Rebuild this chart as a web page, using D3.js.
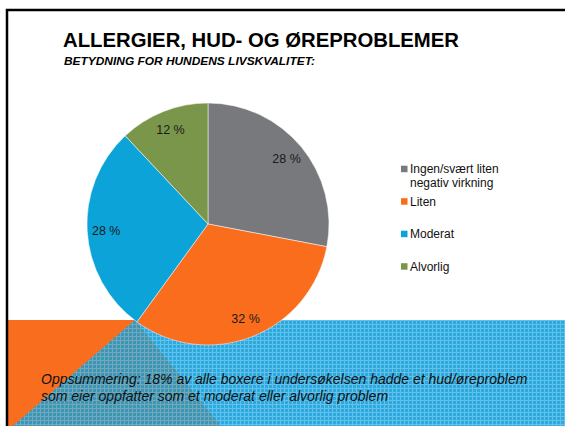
<!DOCTYPE html>
<html lang="no">
<head>
  <meta charset="utf-8">
  <title>Allergier, hud- og øreproblemer</title>
  <script src="https://d3js.org/d3.v7.min.js" charset="utf-8"></script>
  <style>
    html, body { margin: 0; padding: 0; background: #fff; }
    svg { display: block; font-family: "Liberation Sans", Arial, sans-serif; }
  </style>
</head>
<body>
<svg id="chart" width="565" height="426" xmlns="http://www.w3.org/2000/svg"></svg>
<script>
  // chart data
  var categories = ["Ingen/svært liten negativ virkning", "Liten", "Moderat", "Alvorlig"];
  var legendLines = [["Ingen/svært liten", "negativ virkning"], ["Liten"], ["Moderat"], ["Alvorlig"]];
  var values = [28, 32, 28, 12];
  var colors = ["#78797c", "#f96d1d", "#0ba3d8", "#7a964b"];

  var title = "ALLERGIER, HUD- OG ØREPROBLEMER";
  var subtitle = "BETYDNING FOR HUNDENS LIVSKVALITET:";
  var summary = ["Oppsummering: 18% av alle boxere i undersøkelsen hadde et hud/øreproblem",
                 "som eier oppfatter som et moderat eller alvorlig problem"];

  var svg = d3.select("#chart");
  var defs = svg.append("defs");

  // fine grid textures for the bottom band
  function gridPattern(id, base, line) {
    var p = defs.append("pattern")
      .attr("id", id)
      .attr("width", 4).attr("height", 4)
      .attr("patternUnits", "userSpaceOnUse");
    p.append("rect").attr("width", 4).attr("height", 4).attr("fill", base);
    p.append("path").attr("d", "M0 0.5 H4 M0.5 0 V4")
      .attr("stroke", line).attr("stroke-width", 1).attr("fill", "none");
  }
  gridPattern("bandGrid", "#2ea9df", "#62c2ea");
  gridPattern("triGrid", "#3b96b7", "#72a8b8");

  // bottom band
  var band = svg.append("g");
  band.append("rect").attr("x", 8).attr("y", 320).attr("width", 557).attr("height", 106)
    .attr("fill", "url(#bandGrid)");
  band.append("path").attr("d", "M8 320 L135 320 L13 426 L8 426 Z").attr("fill", "#f86d1e");
  band.append("path").attr("d", "M135 320 L221 426 L13 426 Z").attr("fill", "url(#triGrid)");

  // frame
  svg.append("path").attr("d", "M7 426 V10 H565")
    .attr("fill", "none").attr("stroke", "#000").attr("stroke-width", 2.5);

  // titles
  svg.append("text").attr("x", 63).attr("y", 47)
    .attr("font-size", 20).attr("font-weight", "bold")
    .attr("textLength", 396).attr("lengthAdjust", "spacingAndGlyphs")
    .text(title);
  svg.append("text").attr("x", 64).attr("y", 65)
    .attr("font-size", 10.5).attr("font-weight", "bold").attr("font-style", "italic")
    .attr("textLength", 251).attr("lengthAdjust", "spacingAndGlyphs")
    .text(subtitle);

  // pie
  var cx = 208, cy = 224, radius = 121;
  var pie = d3.pie().sort(null).value(function(d) { return d; });
  var arcs = pie(values);
  var arc = d3.arc().innerRadius(0).outerRadius(radius);
  var labelArc = d3.arc().innerRadius(102).outerRadius(102);

  var g = svg.append("g").attr("transform", "translate(" + cx + "," + cy + ")");
  g.selectAll("path.slice").data(arcs).enter().append("path")
    .attr("class", "slice")
    .attr("d", arc)
    .attr("fill", function(d, i) { return colors[i]; })
    .attr("stroke", "#fff").attr("stroke-width", 0.5);

  g.selectAll("text.lbl").data(arcs).enter().append("text")
    .attr("class", "lbl")
    .attr("transform", function(d) { return "translate(" + labelArc.centroid(d) + ")"; })
    .attr("text-anchor", "middle")
    .attr("dy", "0.35em")
    .attr("font-size", 12.5)
    .attr("fill", "#1a1a1a")
    .text(function(d) { return d.data + " %"; });

  // legend
  var legendY = d3.scalePoint().domain(categories).range([169, 266.5]);
  var leg = svg.append("g").selectAll("g").data(categories).enter().append("g")
    .attr("transform", function(d) { return "translate(401," + legendY(d) + ")"; });
  leg.append("rect").attr("x", 0).attr("y", -3.3).attr("width", 6.5).attr("height", 6.5)
    .attr("fill", function(d, i) { return colors[i]; });
  leg.append("text").attr("x", 9).attr("y", 4.2).attr("font-size", 12).attr("fill", "#111")
    .selectAll("tspan").data(function(d, i) { return legendLines[i]; }).enter().append("tspan")
    .attr("x", 9).attr("dy", function(d, j) { return j === 0 ? 0 : 14; })
    .text(function(d) { return d; });

  // summary text
  svg.append("text").attr("font-size", 14).attr("font-style", "italic").attr("fill", "#111")
    .selectAll("tspan").data(summary).enter().append("tspan")
    .attr("x", 41).attr("y", function(d, i) { return 384 + i * 17; })
    .text(function(d) { return d; });
</script>
</body>
</html>
